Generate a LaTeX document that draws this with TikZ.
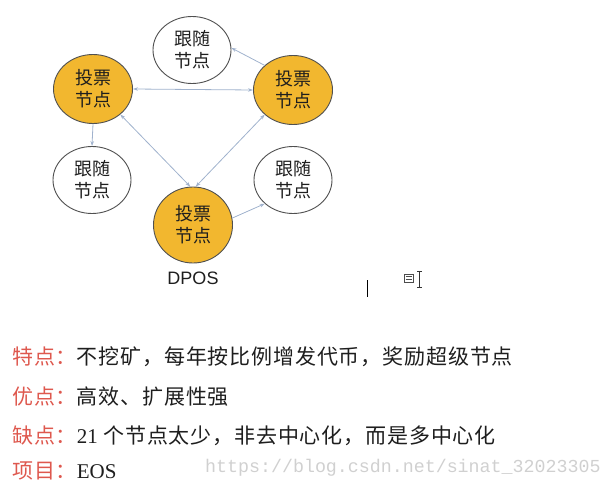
\documentclass[tikz,border=0pt]{standalone}
\usepackage{fontspec}
\usetikzlibrary{shapes.geometric,arrows.meta}
\newfontfamily\cjk{Noto Sans CJK SC}
\newfontfamily\cjkrow[LetterSpace=4]{Noto Sans CJK SC}
\newfontfamily\wmfont{Liberation Mono}
\newfontfamily\latsans{Liberation Sans}
\newfontfamily\latserif{Liberation Serif}
\definecolor{voteyellow}{RGB}{242,183,47}
\definecolor{edgeline}{RGB}{160,178,205}
\definecolor{labelred}{RGB}{222,88,78}
\definecolor{bodytext}{RGB}{30,30,30}
\definecolor{wmgrey}{RGB}{208,208,208}
\definecolor{ringgrey}{RGB}{80,80,80}
\tikzset{
  basenode/.style={ellipse, draw=ringgrey, line width=0.9pt, inner sep=0pt, align=center, font=\cjk\fontsize{18}{22}\selectfont, text=bodytext},
  votenode/.style={basenode, fill=voteyellow, minimum width=79pt, minimum height=69pt},
  follownode/.style={basenode, fill=white, minimum width=78pt, minimum height=67pt},
  link/.style={draw=edgeline, line width=0.8pt, -{Stealth[length=5pt,width=3.5pt]}},
  dlink/.style={draw=edgeline, line width=0.8pt, {Stealth[length=5pt,width=3.5pt]}-{Stealth[length=5pt,width=3.5pt]}},
  rowtext/.style={anchor=west, inner sep=0pt, font=\cjkrow\fontsize{21}{24}\selectfont, text=bodytext},
}
\begin{document}
\begin{tikzpicture}[x=1pt,y=-1pt]
\useasboundingbox (0,0) rectangle (612,489);
% nodes
\node[follownode] (tw) at (192,50) {跟随\\节点};
\node[votenode] (ly) at (93,89) {投票\\节点};
\node[votenode] (ry) at (293,90) {投票\\节点};
\node[follownode] (lw) at (92,180) {跟随\\节点};
\node[votenode, minimum height=76pt] (by) at (193,225) {投票\\节点};
\node[follownode] (rw) at (293,180) {跟随\\节点};
\node[font=\latsans\fontsize{18}{20}\selectfont, text=bodytext, inner sep=0pt] (cap) at (193,278.5) {DPOS};
% connectors
\draw[link] (ry.139) -- (tw.3);
\draw[dlink] (ly.east) -- (ry.west);
\draw[link] (ly.south) -- (lw.north);
\draw[dlink] (ly.-43) -- (by.94);
\draw[dlink] (ry.221) -- (by.86);
\draw[link] (by.10) -- (rw.220);
% cursor artefacts
\coordinate (c1) at (367,280);
\coordinate (c2) at (367,297);
\draw[line width=1pt, black] (c1) -- (c2);
\coordinate (ib1) at (404,274);
\coordinate (ib2) at (413,282);
\draw[line width=0.6pt, black!70] (ib1) rectangle (ib2);
\draw[line width=0.6pt, black!70] (405.5,276.5) -- (411.5,276.5) (405.5,279.5) -- (411.5,279.5);
\draw[line width=0.9pt, black!80] (419.5,271) -- (419.5,287) (417,271) -- (422,271) (417,287) -- (422,287);
% text rows
\node[rowtext] (r1) at (12,357) {\textcolor{labelred}{特点：}不挖矿，每年按比例增发代币，奖励超级节点};
\node[rowtext] (r2) at (12,397) {\textcolor{labelred}{优点：}高效、扩展性强};
\node[rowtext] (r3) at (12,436) {\textcolor{labelred}{缺点：}{\latserif 21} 个节点太少，非去中心化，而是多中心化};
\node[rowtext] (r4) at (12,471) {\textcolor{labelred}{项目：}{\latserif EOS}};
\node[anchor=west, inner sep=0pt, font=\wmfont\fontsize{18.3}{20}\selectfont, text=wmgrey] (wm) at (205,468) {https://blog.csdn.net/sinat\_32023305};
\end{tikzpicture}
\end{document}
